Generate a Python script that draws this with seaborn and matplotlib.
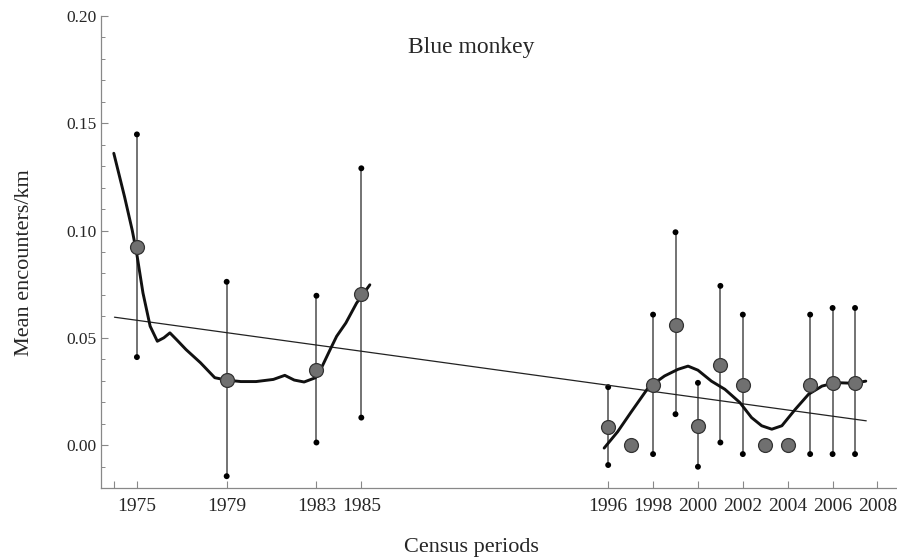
import numpy as np
import pandas as pd
import seaborn as sns
import matplotlib.pyplot as plt
from matplotlib.ticker import MultipleLocator, FormatStrFormatter

nan = np.nan

# census data (mean encounters/km with upper / lower bounds)
years = [1975, 1979, 1983, 1985, 1996, 1997, 1998, 1999, 2000, 2001, 2002, 2003, 2004, 2005, 2006, 2007]
means = [0.0925, 0.0303, 0.0350, 0.0704, 0.0082, 0.0, 0.0278, 0.0561, 0.0090, 0.0373,
         0.0278, 0.0, 0.0, 0.0278, 0.0291, 0.0291]
upper = [0.1448, 0.0761, 0.0696, 0.1290, 0.0270, nan, 0.0608, 0.0992, 0.0290, 0.0742,
         0.0608, nan, nan, 0.0608, 0.0639, 0.0639]
lower = [0.0410, -0.0145, 0.0012, 0.0128, -0.0093, nan, -0.0042, 0.0144, -0.0101, 0.0012,
         -0.0042, nan, nan, -0.0042, -0.0042, -0.0042]

# smoothed curve, first period
smooth1_years = [1973.97, 1974.45, 1974.79, 1974.99, 1975.27, 1975.59, 1975.91, 1976.2, 1976.47,
                 1976.78, 1977.19, 1977.83, 1978.47, 1978.99, 1979.63, 1980.31, 1981.08, 1981.59,
                 1982.01, 1982.45, 1982.96, 1983.26, 1983.61, 1983.9, 1984.31, 1984.79, 1985.38]
smooth1_vals = [0.136, 0.1157, 0.1002, 0.0894, 0.0709, 0.0554, 0.0484, 0.050, 0.0523,
                0.049, 0.0445, 0.0384, 0.0314, 0.0303, 0.0296, 0.0296, 0.0306, 0.0325,
                0.0303, 0.0294, 0.0314, 0.0368, 0.0445, 0.0507, 0.0569, 0.0662, 0.0747]

# smoothed curve, second period
smooth2_years = [1995.82, 1996.42, 1997.01, 1997.79, 1998.51, 1999.11, 1999.56, 2000.0, 2000.6,
                 2001.2, 2001.87, 2002.39, 2002.84, 2003.29, 2003.74, 2004.34, 2004.93, 2005.53,
                 2006.13, 2006.96, 2007.48]
smooth2_vals = [-0.0014, 0.0062, 0.0152, 0.0268, 0.0322, 0.0353, 0.0368, 0.0349, 0.0298,
                0.026, 0.0198, 0.0128, 0.009, 0.0074, 0.009, 0.0167, 0.0237, 0.0275,
                0.0291, 0.0288, 0.0298]

# linear trend
trend_years = [1974, 2007.5]
trend_vals = [0.0596, 0.0113]

xtick_years = [1974, 1975, 1979, 1983, 1985, 1996, 1998, 2000, 2002, 2004, 2006, 2008]
xtick_labels = ['', '1975', '1979', '1983', '1985', '1996', '1998', '2000', '2002', '2004', '2006', '2008']

sns.set_theme(style="ticks")
plt.rcParams['font.family'] = ['Liberation Serif', 'DejaVu Serif']

df = pd.DataFrame({'year': years, 'mean': means, 'upper': upper, 'lower': lower})
s1 = pd.DataFrame({'year': smooth1_years, 'val': smooth1_vals})
s2 = pd.DataFrame({'year': smooth2_years, 'val': smooth2_vals})
tr = pd.DataFrame({'year': trend_years, 'val': trend_vals})

fig = plt.figure(figsize=(8.97, 5.6), dpi=100)
ax = fig.add_axes([0.1126, 0.1286, 0.8874, 0.8429])

# error bars
bars = df.dropna()
ax.vlines(bars['year'], bars['lower'], bars['upper'], color='#4d4d4d', lw=1.1, zorder=1)
caps = pd.concat([bars[['year', 'upper']].rename(columns={'upper': 'v'}),
                  bars[['year', 'lower']].rename(columns={'lower': 'v'})])
sns.scatterplot(data=caps, x='year', y='v', ax=ax, color='black', s=18, edgecolor='none', zorder=2)

# trend and smoothed curves
sns.lineplot(data=tr, x='year', y='val', ax=ax, color='#222222', lw=0.9, zorder=2)
for s in (s1, s2):
    sns.lineplot(data=s, x='year', y='val', ax=ax, color='#111111', lw=2.1, zorder=3,
                 solid_joinstyle='round', solid_capstyle='round')

# means
sns.scatterplot(data=df, x='year', y='mean', ax=ax, color='#707070', s=100,
                edgecolor='#333333', linewidth=0.9, zorder=4)

ax.set_xlim(1973.4, 2008.87)
ax.set_ylim(-0.02, 0.20)
ax.set_xticks(xtick_years)
ax.set_xticklabels(xtick_labels, fontsize=14)
ax.yaxis.set_major_locator(MultipleLocator(0.05))
ax.yaxis.set_minor_locator(MultipleLocator(0.01))
ax.yaxis.set_major_formatter(FormatStrFormatter('%.2f'))
ax.tick_params(axis='y', labelsize=12.5)
ax.tick_params(axis='x', pad=7)
ax.tick_params(which='both', direction='in', color='#888888')
ax.tick_params(which='major', length=5, width=0.8)
ax.tick_params(which='minor', length=3, width=0.7)

for side in ['top', 'right']:
    ax.spines[side].set_visible(False)
for side in ['left', 'bottom']:
    ax.spines[side].set_color('#888888')
    ax.spines[side].set_linewidth(0.9)

ax.set_xlabel('Census periods', fontsize=16)
ax.set_ylabel('Mean encounters/km', fontsize=16)
ax.xaxis.set_label_coords(0.465, -0.105)
ax.yaxis.set_label_coords(-0.084, 0.477)
ax.text(0.465, 0.934, 'Blue monkey', transform=ax.transAxes, ha='center', va='center', fontsize=17)

fig.savefig('out.png', dpi=100)
